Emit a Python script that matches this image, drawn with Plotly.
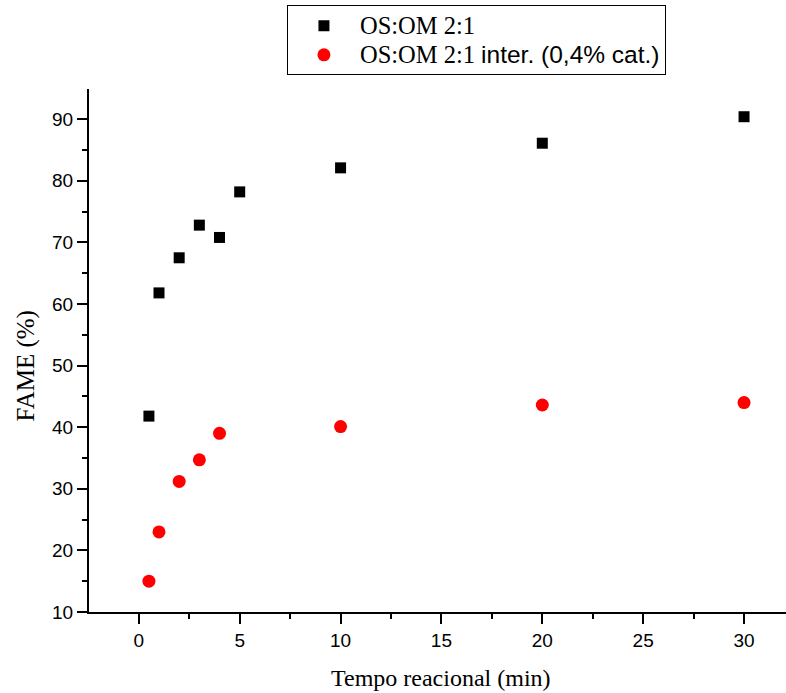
import plotly.graph_objects as go

# Data
x_os = [0.5, 1, 2, 3, 4, 5, 10, 20, 30]
y_os = [41.8, 61.8, 67.5, 72.8, 70.8, 78.2, 82.1, 86.1, 90.4]
x_inter = [0.5, 1, 2, 3, 4, 10, 20, 30]
y_inter = [15.0, 23.0, 31.2, 34.7, 39.0, 40.1, 43.6, 44.0]
x_ticks = [0, 5, 10, 15, 20, 25, 30]
y_ticks = [10, 20, 30, 40, 50, 60, 70, 80, 90]

SERIF = "Liberation Serif, Times New Roman, serif"
SANS = "Liberation Sans, Arial, sans-serif"

name1 = '<span style="font-size:24.5px">OS:OM 2:1</span>'
name2 = ('<span style="font-size:24.5px">OS:OM 2:1 </span>'
         '<span style="font-size:24.5px;font-family:Liberation Sans, Arial, sans-serif">inter. (0,4% cat.)</span>')

fig = go.Figure()
fig.add_trace(go.Scatter(
    x=x_os, y=y_os, mode="markers", name=name1,
    marker=dict(symbol="square", size=11, color="black"),
))
fig.add_trace(go.Scatter(
    x=x_inter, y=y_inter, mode="markers", name=name2,
    marker=dict(symbol="circle", size=13, color="#ff0000"),
))

axis_common = dict(
    showgrid=False, zeroline=False, showline=True, linecolor="black", linewidth=2,
    ticks="outside", ticklen=10, tickwidth=2, tickcolor="black",
    tickfont=dict(family=SANS, size=19, color="black"),
    minor=dict(ticks="outside", ticklen=5, tickwidth=2, tickcolor="black"),
)

fig.update_xaxes(range=[-2.47, 32.08], tickvals=x_ticks, **axis_common)
fig.update_yaxes(range=[10, 94.9], tickvals=y_ticks, **axis_common)
fig.update_xaxes(minor=dict(dtick=2.5, tick0=0))
fig.update_yaxes(minor=dict(dtick=5, tick0=0))

fig.add_annotation(text="Tempo reacional (min)", x=15, xref="x", y=-0.1256, yref="paper",
                   showarrow=False, xanchor="center", yanchor="middle",
                   font=dict(family=SERIF, size=24, color="black"))
fig.add_annotation(text="FAME (%)", x=-0.091, xref="paper", y=0.4707, yref="paper",
                   textangle=-90, showarrow=False, xanchor="center", yanchor="middle",
                   font=dict(family=SERIF, size=25, color="black"))

fig.update_layout(
    width=786, height=693,
    margin=dict(l=89, r=0, t=89, b=81, pad=0),
    plot_bgcolor="white", paper_bgcolor="white",
    legend=dict(
        x=0.284, xanchor="left", y=1.16, yanchor="top",
        bordercolor="black", borderwidth=1, bgcolor="white",
        font=dict(family=SERIF, size=20, color="black"),
        itemwidth=62, tracegroupgap=0,
    ),
)

fig.write_html("out.html")
